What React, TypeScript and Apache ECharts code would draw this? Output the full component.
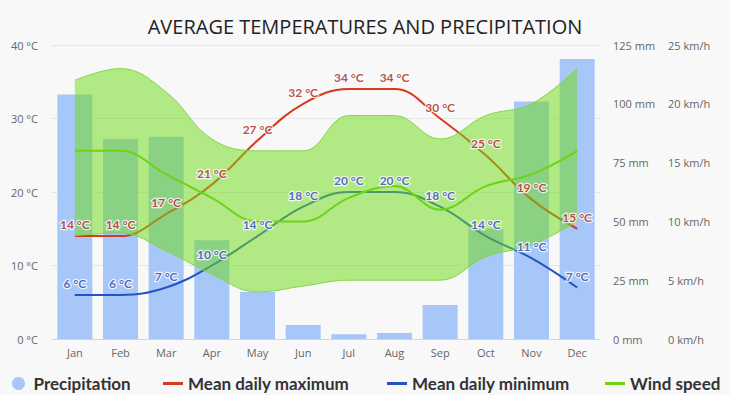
import React, { useEffect, useRef } from "react";
import * as echarts from "echarts";

const months = ["Jan", "Feb", "Mar", "Apr", "May", "Jun", "Jul", "Aug", "Sep", "Oct", "Nov", "Dec"];
const precipitation = [104, 85, 86, 42, 20, 6, 2, 2.5, 14.5, 47, 101, 119];
const tempMax = [14, 14, 17, 21, 27, 32, 34, 34, 30, 25, 19, 15];
const tempMin = [6, 6, 7, 10, 14, 18, 20, 20, 18, 14, 11, 7];
const windSpeed = [16, 16, 14, 12, 10, 10, 12, 13, 11, 13, 14, 16];
const windLow = [8.8, 9, 7.5, 5.5, 4, 4.5, 5, 5, 5, 7, 8, 10];
const windHigh = [22, 23, 21, 17, 16, 16, 19, 19, 17, 19, 20, 23];

const titleText = "AVERAGE TEMPERATURES AND PRECIPITATION";
const legendNames = ["Precipitation", "Mean daily maximum", "Mean daily minimum", "Wind speed"];

const BAR = "#a7c7f8";
const RED = "#d9381e";
const BLUE = "#2453c4";
const GREEN = "#6cd414";
const AXIS_FONT = "'Open Sans', sans-serif";
const SMOOTH = 0.4;
const LINE_ICON = "path://M0 0H20V3H0Z";

export default function App() {
  const ref = useRef<HTMLDivElement>(null);

  useEffect(() => {
    if (!ref.current) return;
    const chart = echarts.init(ref.current, undefined, { renderer: "svg" });
    const windRange = windHigh.map((h, i) => +(h - windLow[i]).toFixed(2));

    const tempLabel = (color: string) => ({
      show: true,
      position: "top" as const,
      distance: 5,
      formatter: (p: any) => `${p.value} °C`,
      color,
      fontFamily: "Lato, sans-serif",
      fontWeight: "bold" as const,
      fontSize: 12,
      textBorderColor: "#ffffff",
      textBorderWidth: 2.5,
    });

    const legendPos = [7, 158, 382, 600];
    const legendIcons = ["circle", LINE_ICON, LINE_ICON, LINE_ICON];
    const legends = legendNames.map((name, i) => ({
      data: [{ name, icon: legendIcons[i] }],
      left: legendPos[i],
      top: 370,
      itemWidth: 20,
      itemHeight: 13,
      selectedMode: false,
      textStyle: {
        fontFamily: "Lato, sans-serif",
        fontWeight: "bold",
        fontSize: 17,
        color: "#333333",
      },
    }));

    chart.setOption({
      animation: false,
      backgroundColor: "#f8f8f8",
      title: {
        text: titleText,
        left: "center",
        top: 11,
        textStyle: {
          fontFamily: AXIS_FONT,
          fontSize: 20,
          fontWeight: "normal",
          color: "#222222",
        },
      },
      legend: legends,
      grid: {
        left: 52,
        right: 130,
        top: 45,
        bottom: 56,
        containLabel: false,
        outerBoundsMode: "none",
      },
      xAxis: {
        type: "category",
        data: months,
        axisTick: { show: false },
        axisLine: { lineStyle: { color: "#ccd6eb" } },
        axisLabel: { color: "#666666", fontSize: 11, fontFamily: AXIS_FONT, margin: 8 },
      },
      yAxis: [
        {
          type: "value",
          min: 0,
          max: 40,
          interval: 10,
          position: "left",
          axisLine: { show: false },
          axisTick: { show: false },
          splitLine: { lineStyle: { color: "#e6e6e6" } },
          axisLabel: {
            formatter: "{value} °C",
            color: "#666666",
            fontSize: 11,
            fontFamily: AXIS_FONT,
            margin: 14,
          },
        },
        {
          type: "value",
          min: 0,
          max: 125,
          interval: 25,
          position: "right",
          axisLine: { show: false },
          axisTick: { show: false },
          splitLine: { show: false },
          axisLabel: {
            formatter: "{value} mm",
            color: "#666666",
            fontSize: 11,
            fontFamily: AXIS_FONT,
            margin: 13,
          },
        },
        {
          type: "value",
          min: 0,
          max: 25,
          interval: 5,
          position: "right",
          offset: 55,
          axisLine: { show: false },
          axisTick: { show: false },
          splitLine: { show: false },
          axisLabel: {
            formatter: "{value} km/h",
            color: "#666666",
            fontSize: 11,
            fontFamily: AXIS_FONT,
            margin: 13,
          },
        },
      ],
      series: [
        {
          name: legendNames[0],
          type: "bar",
          yAxisIndex: 1,
          data: precipitation,
          barWidth: 35,
          itemStyle: { color: BAR },
          z: 1,
        },
        {
          name: legendNames[1],
          type: "line",
          yAxisIndex: 0,
          data: tempMax,
          smooth: SMOOTH,
          symbol: "none",
          itemStyle: { color: RED },
          lineStyle: { color: RED, width: 2 },
          z: 2,
        },
        {
          name: legendNames[2],
          type: "line",
          yAxisIndex: 0,
          data: tempMin,
          smooth: SMOOTH,
          symbol: "none",
          itemStyle: { color: BLUE },
          lineStyle: { color: BLUE, width: 2 },
          z: 2,
        },
        {
          name: "windLow",
          type: "line",
          yAxisIndex: 2,
          stack: "band",
          data: windLow,
          smooth: SMOOTH,
          symbol: "none",
          lineStyle: { color: "#86d646", width: 1 },
          z: 3,
        },
        {
          name: "windRange",
          type: "line",
          yAxisIndex: 2,
          stack: "band",
          data: windRange,
          smooth: SMOOTH,
          symbol: "none",
          lineStyle: { color: "#86d646", width: 1 },
          areaStyle: { color: "rgba(112,218,24,0.52)", opacity: 1 },
          z: 3,
        },
        {
          name: legendNames[3],
          type: "line",
          yAxisIndex: 2,
          data: windSpeed,
          smooth: SMOOTH,
          symbol: "none",
          itemStyle: { color: GREEN },
          lineStyle: { color: GREEN, width: 2 },
          z: 4,
        },
        {
          name: "maxLabels",
          type: "scatter",
          yAxisIndex: 0,
          data: tempMax,
          symbolSize: 1,
          itemStyle: { color: "rgba(0,0,0,0)" },
          label: tempLabel("#a52418"),
          z: 10,
        },
        {
          name: "minLabels",
          type: "scatter",
          yAxisIndex: 0,
          data: tempMin,
          symbolSize: 1,
          itemStyle: { color: "rgba(0,0,0,0)" },
          label: tempLabel("#2a47b0"),
          z: 10,
        },
      ],
    });

    return () => chart.dispose();
  }, []);

  return (
    <div
      ref={ref}
      style={{ position: "absolute", left: 0, top: 0, width: 730, height: 395 }}
    />
  );
}
